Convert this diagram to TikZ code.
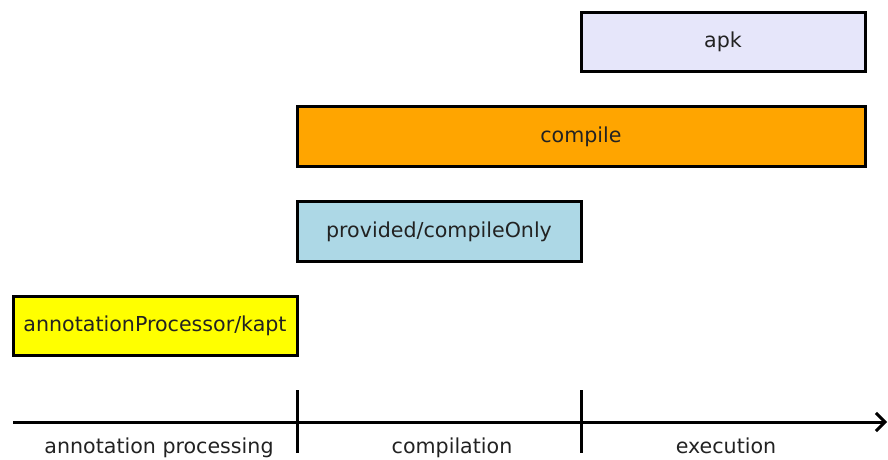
\documentclass[tikz,border=0pt]{standalone}
\usepackage{fontspec}
\setmainfont{DejaVu Sans}
\usetikzlibrary{arrows.meta}
\definecolor{lavenderfill}{HTML}{E6E6FA}
\definecolor{orangefill}{HTML}{FFA500}
\definecolor{bluefill}{HTML}{ADD8E6}
\definecolor{yellowfill}{HTML}{FFFF00}
\definecolor{labeltext}{HTML}{222222}
\tikzset{
  scopebox/.style={draw=black, line width=3pt, minimum height=59pt,
    inner sep=0pt, text=labeltext, font=\fontsize{20.6}{24}\selectfont,
    text height=15pt, text depth=3pt},
  phase/.style={text=labeltext, font=\fontsize{20.6}{24}\selectfont, inner sep=0pt, anchor=base},
  axisline/.style={draw=black, line width=3pt},
}
\begin{document}
\begin{tikzpicture}[x=1pt, y=-1pt]
  \useasboundingbox (0,0) rectangle (888,459);

  % dependency scopes
  \node[scopebox, fill=lavenderfill, minimum width=284pt] (apk) at (723,41.5) {apk};
  \node[scopebox, fill=orangefill, minimum width=568pt, minimum height=60pt] (compile) at (581,136) {compile};
  \node[scopebox, fill=bluefill, minimum width=284pt, minimum height=60pt] (provided) at (439,231) {provided/compileOnly};
  \node[scopebox, fill=yellowfill, minimum width=284pt] (kapt) at (155,325.5) {annotationProcessor/kapt};

  % time axis
  \coordinate (axstart) at (13,422);
  \coordinate (axend) at (887,422);
  \draw[axisline, -{Straight Barb[length=9pt, width=18pt, line width=3pt]}] (axstart) -- (axend);

  \coordinate (tickA top) at (297,390);
  \coordinate (tickA bot) at (297,453);
  \coordinate (tickB top) at (581,390);
  \coordinate (tickB bot) at (581,453);
  \draw[axisline] (tickA top) -- (tickA bot);
  \draw[axisline] (tickB top) -- (tickB bot);

  % phase labels
  \node[phase] (p1) at (159,453) {annotation processing};
  \node[phase] (p2) at (452,453) {compilation};
  \node[phase] (p3) at (726,453) {execution};
\end{tikzpicture}
\end{document}
